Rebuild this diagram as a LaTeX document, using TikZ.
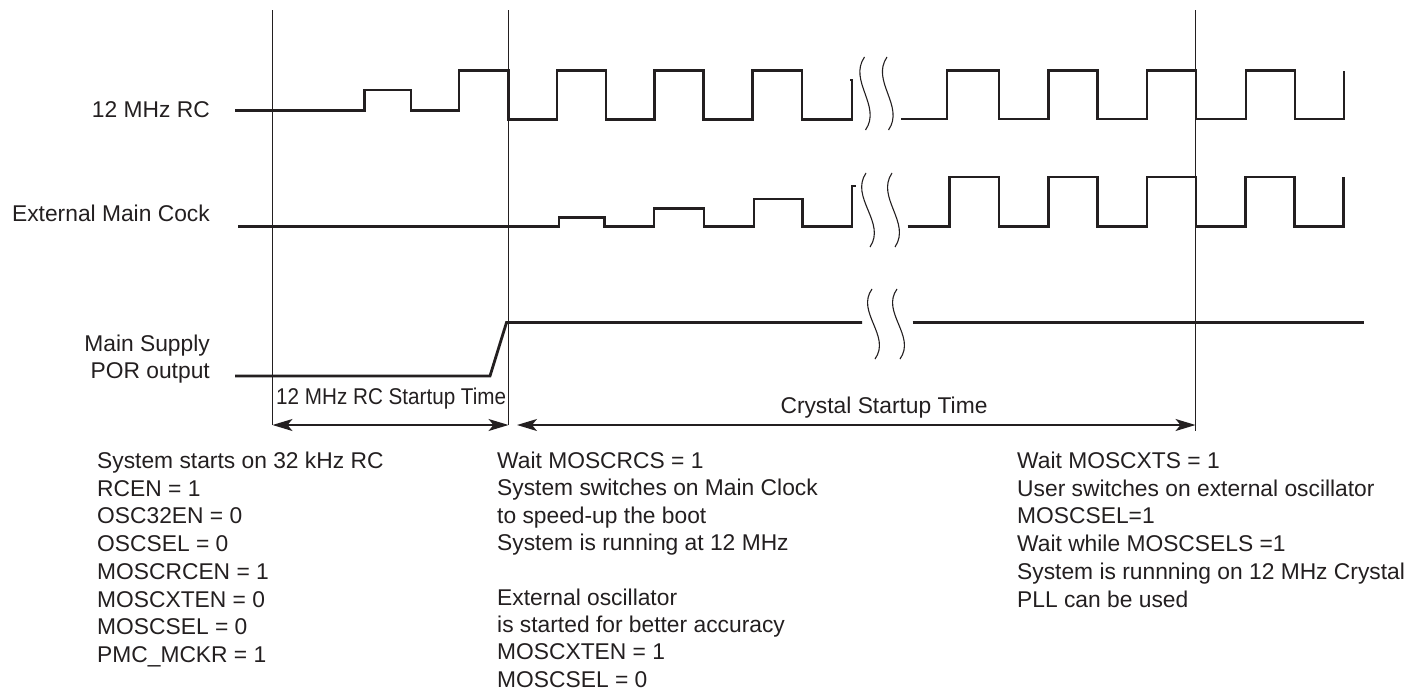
\documentclass[tikz,border=0pt]{standalone}
\usepackage{fontspec}
\setmainfont{Liberation Sans}
\usetikzlibrary{arrows.meta}
\definecolor{ink}{RGB}{35,31,32}
\begin{document}
\begin{tikzpicture}[x=1pt,y=-1pt,
  sig/.style={line width=2.8pt, draw=ink, line join=miter, line cap=butt},
  vline/.style={line width=1.2pt, draw=ink},
  brk/.style={line width=1.1pt, draw=ink},
  dimarrow/.style={line width=1.3pt, draw=ink,
    {Stealth[length=20pt,width=12pt,inset=5pt]}-{Stealth[length=20pt,width=12pt,inset=5pt]}},
  txt/.style={font=\fontsize{22.8}{27.6}\selectfont, text=ink, inner sep=0pt},
]
\useasboundingbox (0,0) rectangle (1427,691);

% vertical reference lines
\draw[vline] (272.5,10) -- (272.5,425);
\draw[vline] (508.5,10) -- (508.5,425);
\draw[vline] (1195.5,10) -- (1195.5,431);

% 12 MHz RC
\draw[sig] (235,110.5) -- (364.5,110.5) -- (364.5,90) -- (411,90) -- (411,110.5)
  -- (459,110.5) -- (459,70.5) -- (508.5,70.5) -- (508.5,119.5) -- (557,119.5)
  -- (557,70.5) -- (606,70.5) -- (606,119.5) -- (654.5,119.5) -- (654.5,70.5)
  -- (703.5,70.5) -- (703.5,119.5) -- (752.5,119.5) -- (752.5,70.5) -- (802,70.5)
  -- (802,119.5) -- (852,119.5) -- (852,80) -- (849.5,80);
\draw[sig] (901,119) -- (947,119) -- (947,70.5) -- (999,70.5) -- (999,119)
  -- (1048.5,119) -- (1048.5,70.5) -- (1097.5,70.5) -- (1097.5,119) -- (1147,119)
  -- (1147,70.5) -- (1196,70.5) -- (1196,119) -- (1246,119) -- (1246,70.5)
  -- (1295,70.5) -- (1295,119) -- (1344,119) -- (1344,71);

% External main clock
\draw[sig] (238,226.5) -- (559,226.5) -- (559,217.5) -- (604.5,217.5) -- (604.5,226.5)
  -- (654,226.5) -- (654,208.5) -- (704,208.5) -- (704,226.5) -- (754,226.5)
  -- (754,199) -- (802.5,199) -- (802.5,226.5) -- (852,226.5) -- (852,186) -- (856,186);
\draw[sig] (907.5,226.5) -- (949.5,226.5) -- (949.5,177) -- (999,177) -- (999,226.5)
  -- (1048.5,226.5) -- (1048.5,177) -- (1097.5,177) -- (1097.5,226.5) -- (1147,226.5)
  -- (1147,177) -- (1196,177) -- (1196,226.5) -- (1245.5,226.5) -- (1245.5,177)
  -- (1294.5,177) -- (1294.5,226.5) -- (1343.5,226.5) -- (1343.5,177);

% Main supply POR output
\draw[sig] (235,376) -- (490,376) -- (506.5,322.5) -- (862,322.5);
\draw[sig] (912.5,322.5) -- (1364,322.5);

% break marks
\draw[brk] (864.5,57) .. controls (848,81) and (882,106) .. (865.5,130);
\draw[brk] (887,57) .. controls (870.5,81) and (905,106) .. (888.5,130);
\draw[brk] (866,173) .. controls (849.5,197.5) and (886.5,222.5) .. (870,247);
\draw[brk] (892,173) .. controls (875.5,197.5) and (911.5,222.5) .. (895,247);
\draw[brk] (872,289) .. controls (855.5,312) and (891.5,336) .. (875,359);
\draw[brk] (897,289) .. controls (880.5,312) and (916.5,336) .. (900,359);

% dimension arrows
\coordinate (rcL) at (272.5,425);
\coordinate (rcR) at (508.5,425);
\coordinate (xtL) at (517,425);
\coordinate (xtR) at (1195.5,425);
\draw[dimarrow] (rcL) -- (rcR);
\draw[dimarrow] (xtL) -- (xtR);

\node[txt, anchor=base west] (rclabel) at (276,404) {\scalebox{0.906}[1]{12 MHz RC Startup Time}};
\node[txt, anchor=base] (xtlabel) at (884,413.3) {Crystal Startup Time};

% signal names
\node[txt, anchor=base east] (n1) at (210,117) {12 MHz RC};
\node[txt, anchor=base east] (n2) at (210,221.7) {External Main Cock};
\node[txt, anchor=base east] (n3a) at (210,351.7) {Main Supply};
\node[txt, anchor=base east] (n3b) at (210,378.3) {POR output};

% left column
\foreach \s [count=\i] in {System starts on 32 kHz RC, RCEN = 1, OSC32EN = 0, OSCSEL = 0,
  MOSCRCEN = 1, MOSCXTEN = 0, MOSCSEL = 0, PMC\_MCKR = 1}
  \node[txt, anchor=base west] (a\i) at (97,{468.5+(\i-1)*27.7}) {\s};

% middle column
\foreach \k/\s in {0/Wait MOSCRCS = 1, 1/System switches on Main Clock, 2/to speed-up the boot,
  3/System is running at 12 MHz, 5/External oscillator, 6/is started for better accuracy,
  7/MOSCXTEN = 1, 8/MOSCSEL = 0}
  \node[txt, anchor=base west] (b\k) at (497,{468.5+\k*27.35}) {\s};

% right column
\foreach \s [count=\i] in {Wait MOSCXTS = 1, User switches on external oscillator, MOSCSEL=1,
  Wait while MOSCSELS =1, System is runnning on 12 MHz Crystal, PLL can be used}
  \node[txt, anchor=base west] (c\i) at (1017,{468.5+(\i-1)*27.7}) {\s};
\end{tikzpicture}
\end{document}
